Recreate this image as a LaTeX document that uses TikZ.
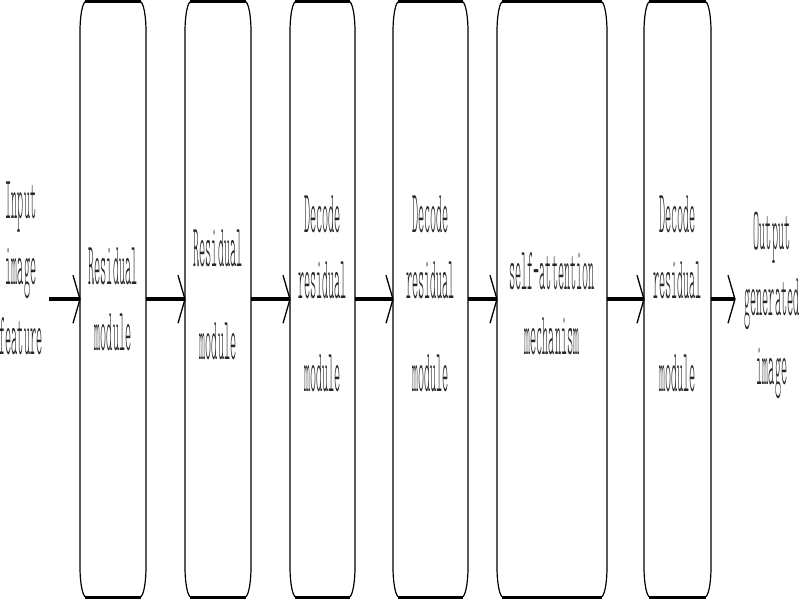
\documentclass[tikz,border=0pt]{standalone}
\usepackage{fontspec}
\usepackage{graphicx}
\usetikzlibrary{calc}
\newfontfamily\labelfont{Latin Modern Mono Light}
\newcommand\lbl[1]{\scalebox{0.194}[1]{\vtop{\baselineskip=66pt\lineskiplimit=-1000pt\lineskip=0pt\halign{\hfil##\hfil\cr#1\crcr}}}}
\newcommand\modframe[1]{%
  \draw[modoutline] ($(#1.north west)+(0,-30)$) .. controls +(0,16.6) and +(-3.3,0) .. ($(#1.north west)+(6,0)$)
    -- ($(#1.north east)+(-6,0)$) .. controls +(3.3,0) and +(0,16.6) .. ($(#1.north east)+(0,-30)$)
    -- ($(#1.south east)+(0,30)$) .. controls +(0,-16.6) and +(3.3,0) .. ($(#1.south east)+(-6,0)$)
    -- ($(#1.south west)+(6,0)$) .. controls +(-3.3,0) and +(0,-16.6) .. ($(#1.south west)+(0,30)$)
    -- cycle;
  \draw[boxedge] ($(#1.north west)+(5,0)$) -- ($(#1.north east)+(-5,0)$);
  \draw[boxedge] ($(#1.south west)+(5,0)$) -- ($(#1.south east)+(-5,0)$);
}
\newcommand\chevron[1]{\draw[arrowchev] ($(#1)+(-7,24)$) -- (#1) -- ($(#1)+(-7,-24)$);}
\begin{document}
\begin{tikzpicture}[x=1pt,y=1pt,
  boxgeom/.style={rectangle, inner sep=0pt, outer sep=0pt, minimum height=595.5pt},
  modoutline/.style={draw=black, line width=1.2pt},
  boxedge/.style={line width=3pt, line cap=butt},
  modlabel/.style={inner sep=0pt, anchor=base, text=black!85, font={\labelfont\fontsize{60pt}{66pt}\selectfont}},
  arrowshaft/.style={line width=4pt, line cap=butt},
  arrowchev/.style={line width=1.3pt}]
\fill[white] (0,0) rectangle (800,600);
\useasboundingbox (0,0) rectangle (800,600);
% module boxes
\node[boxgeom, minimum width=66pt] (b1) at (113,300.75) {};
\node[boxgeom, minimum width=66pt] (b2) at (218,300.75) {};
\node[boxgeom, minimum width=65pt] (b3) at (322.5,300.75) {};
\node[boxgeom, minimum width=75pt] (b4) at (430.5,300.75) {};
\node[boxgeom, minimum width=110pt] (b5) at (552,300.75) {};
\node[boxgeom, minimum width=67pt] (b6) at (677.5,300.75) {};
\coordinate (start) at (49,300.75);
\coordinate (finish) at (735,300.75);
% connectors
\draw[arrowshaft] (start) -- (b1.west); \chevron{b1.west}
\draw[arrowshaft] (b1.east) -- (b2.west); \chevron{b2.west}
\draw[arrowshaft] (b2.east) -- (b3.west); \chevron{b3.west}
\draw[arrowshaft] (b3.east) -- (b4.west); \chevron{b4.west}
\draw[arrowshaft] (b4.east) -- (b5.west); \chevron{b5.west}
\draw[arrowshaft] (b5.east) -- (b6.west); \chevron{b6.west}
\draw[arrowshaft] (b6.east) -- (finish); \chevron{finish}
\modframe{b1}\modframe{b2}\modframe{b3}\modframe{b4}\modframe{b5}\modframe{b6}
% labels
\node[modlabel] (tin) at (21,381) {\lbl{Input\cr image\cr\noalign{\vskip4pt}feature}};
\node[modlabel] (t1) at (113,315) {\lbl{Residual\cr module}};
\node[modlabel] (t2) at (218,333) {\lbl{Residual\cr\noalign{\vskip27pt}module}};
\node[modlabel] (t3) at (322.5,367) {\lbl{Decode\cr residual\cr\noalign{\vskip27pt}module}};
\node[modlabel] (t4) at (430.5,367) {\lbl{Decode\cr residual\cr\noalign{\vskip27pt}module}};
\node[modlabel] (t5) at (552,310) {\lbl{self-attention\cr\noalign{\vskip-1pt}mechanism}};
\node[modlabel] (t6) at (677.5,367) {\lbl{Decode\cr residual\cr\noalign{\vskip27pt}module}};
\node[modlabel] (tout) at (772,350) {\lbl{Output\cr generated\cr\noalign{\vskip3pt}image}};
\end{tikzpicture}
\end{document}
